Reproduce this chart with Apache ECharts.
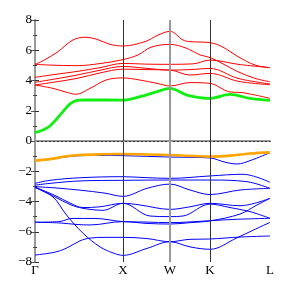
<!DOCTYPE html>
<html><head><meta charset="utf-8">
<script src="https://cdn.jsdelivr.net/npm/echarts@6/dist/echarts.min.js"></script>
<style>html,body{margin:0;padding:0;background:#fff}#c{width:291px;height:291px}</style>
</head><body><div id="c"></div>
<script>
// k-path tick positions and labels
var kTicks = [0, 88, 135, 175, 235];
var kLabels = ['Γ', 'X', 'W', 'K', 'L'];
var yTicks = [-8, -6, -4, -2, 0, 2, 4, 6, 8];

// conduction bands (red), lowest conduction band (green)
var R1 = [[0,5.07],[8,5.31],[22,5.86],[38,6.68],[50,6.86],[62,6.72],[75,6.39],[88,6.28],[110,6.57],[123,7.0],[135,7.25],[148,6.68],[155,6.57],[175,6.5],[187,6.24],[203,5.58],[220,5.02],[235,4.85]];
var R2 = [[0,5.07],[15,5.02],[42,4.98],[65,5.12],[88,5.38],[103,5.69],[116,6.2],[135,6.39],[152,6.12],[165,5.69],[175,5.52],[188,5.1],[203,4.58],[220,4.14],[235,3.92]];
var R3 = [[0,4.21],[20,4.4],[42,4.6],[65,4.85],[88,5.13],[112,5.08],[135,5.07],[158,5.1],[175,5.35],[203,5.07],[235,4.85]];
var R4 = [[0,3.88],[20,4.1],[42,4.36],[65,4.68],[88,4.93],[112,4.8],[135,4.69],[155,4.72],[175,4.8],[203,4.14],[235,3.77]];
var R5 = [[0,3.7],[20,3.9],[42,4.14],[65,4.5],[88,4.75],[112,4.72],[135,4.69],[155,4.36],[175,4.47],[203,3.95],[235,3.72]];
var R6 = [[0,3.7],[18,3.48],[30,3.25],[41,3.09],[55,3.48],[71,4.03],[88,4.17],[105,4.03],[122,3.81],[135,3.64],[155,3.86],[175,3.81],[195,3.24],[207,3.2],[235,2.82]];
var G1 = [[0,0.55],[8,0.73],[15,0.99],[28,1.94],[35,2.45],[42,2.68],[50,2.72],[88,2.7],[105,2.93],[122,3.26],[135,3.48],[152,3.04],[175,2.82],[195,3.08],[215,2.82],[235,2.68]];

// valence bands (blue), top valence band (orange)
var O1 = [[0,-1.3],[15,-1.2],[30,-1.03],[45,-0.93],[65,-0.88],[88,-0.86],[135,-0.93],[175,-1.03],[195,-0.97],[215,-0.83],[235,-0.75]];
var B1 = [[0,-1.32],[15,-1.22],[30,-1.06],[45,-0.97],[65,-0.95],[88,-0.97],[135,-1.06],[175,-1.12],[190,-1.4],[202,-1.52],[215,-1.3],[235,-0.77]];
var B2 = [[0,-2.8],[15,-2.6],[45,-2.43],[88,-2.36],[110,-2.42],[135,-2.47],[175,-2.31],[208,-2.2],[235,-2.73]];
var B3 = [[0,-2.92],[15,-2.8],[45,-2.64],[88,-2.6],[135,-2.58],[175,-2.58],[212,-2.69],[235,-3.13]];
var B4 = [[0,-3.02],[20,-3.1],[45,-3.25],[70,-3.45],[88,-3.66],[112,-3.13],[135,-2.85],[155,-3.24],[175,-3.54],[205,-3.24],[235,-3.13]];
var B5 = [[0,-3.05],[20,-3.6],[35,-4.1],[48,-4.4],[65,-4.35],[88,-4.12],[105,-4.23],[135,-4.52],[155,-4.35],[175,-4.12],[205,-4.28],[235,-3.79]];
var B6 = [[0,-3.05],[20,-3.7],[35,-4.2],[48,-4.45],[68,-4.58],[88,-4.12],[115,-4.96],[135,-5.0],[148,-4.96],[175,-4.17],[195,-4.4],[215,-4.67],[235,-5.11]];
var B7 = [[0,-3.08],[18,-3.7],[31,-4.85],[48,-6.1],[65,-7.0],[78,-7.4],[88,-7.56],[112,-7.1],[135,-6.66],[155,-7.0],[175,-7.16],[202,-6.4],[218,-5.9],[235,-5.38]];
var B8 = [[0,-5.37],[25,-5.32],[37,-5.12],[60,-5.12],[88,-5.33],[112,-5.36],[135,-5.4],[155,-5.35],[175,-5.27],[200,-5.18],[235,-5.11]];
var B9 = [[0,-5.37],[25,-5.42],[42,-5.52],[55,-5.55],[88,-5.33],[112,-5.45],[135,-5.49],[155,-5.4],[175,-5.28],[205,-4.83],[222,-4.23],[235,-3.79]];
var B10 = [[0,-7.54],[20,-7.35],[31,-7.1],[45,-6.6],[55,-6.42],[70,-6.37],[88,-6.37],[112,-6.45],[135,-6.66],[155,-6.5],[175,-6.48],[205,-6.35],[235,-6.28]];

var font = 'Liberation Serif';
function band(data, color, width, z) {
  return {type:'line', data:data, smooth:0.35, symbol:'none', silent:true,
    lineStyle:{color:color, width:width}, z:z, animation:false};
}
var series = [];
[B1,B2,B3,B4,B5,B6,B7,B8,B9,B10].forEach(function(d){ series.push(band(d,'#0000ff',1,3)); });
series.push(band(O1,'#ffa500',2.6,4));
[R1,R2,R3,R4,R5,R6].forEach(function(d){ series.push(band(d,'#ff0000',1,3)); });
series.push(band(G1,'#11ee11',2.8,4));
series[0].markLine = {symbol:'none', silent:true, label:{show:false}, animation:false,
  data:[
    {xAxis:kTicks[1], lineStyle:{color:'#333', width:1, type:'solid'}},
    {xAxis:kTicks[2], lineStyle:{color:'#999', width:2, type:'solid'}},
    {xAxis:kTicks[3], lineStyle:{color:'#333', width:1, type:'solid'}},
    {yAxis:0, lineStyle:{color:'#999', width:1, type:[2,2]}}
  ]};

var chart = echarts.init(document.getElementById('c'), null, {renderer:'canvas'});
chart.setOption({
  animation:false,
  grid:{left:35, right:21, top:20, bottom:29},
  xAxis:[
    {type:'value', min:0, max:235, position:'bottom',
     axisLine:{show:true, lineStyle:{color:'#999', width:2}},
     axisTick:{show:false}, splitLine:{show:false},
     axisLabel:{customValues:kTicks, fontFamily:font, fontSize:13, color:'#000', margin:2,
       formatter:function(v){ var i = kTicks.indexOf(v); return i>=0 ? kLabels[i] : ''; }}},
    {type:'value', min:0, max:235, position:'top',
     axisLine:{show:true, lineStyle:{color:'#333', width:1}},
     axisTick:{show:false}, axisLabel:{show:false}, splitLine:{show:false}}
  ],
  yAxis:[
    {type:'value', min:yTicks[0], max:yTicks[yTicks.length-1], interval:2, position:'left',
     axisLine:{show:true, lineStyle:{color:'#333', width:1}},
     axisTick:{show:true, inside:true, length:4, lineStyle:{color:'#333'}},
     minorTick:{show:true, splitNumber:2, length:2, lineStyle:{color:'#333'}},
     splitLine:{show:false},
     axisLabel:{fontFamily:font, fontSize:13, color:'#000', margin:3,
       formatter:function(v){ return String(v).replace('-', '\u2212'); }}},
    {type:'value', min:yTicks[0], max:yTicks[yTicks.length-1], interval:2, position:'right',
     axisLine:{show:true, lineStyle:{color:'#999', width:2}},
     axisTick:{show:true, inside:true, length:4, lineStyle:{color:'#555'}},
     minorTick:{show:true, splitNumber:2, length:2, lineStyle:{color:'#555'}},
     splitLine:{show:false}, axisLabel:{show:false}}
  ],
  series:series
});
</script></body></html>
